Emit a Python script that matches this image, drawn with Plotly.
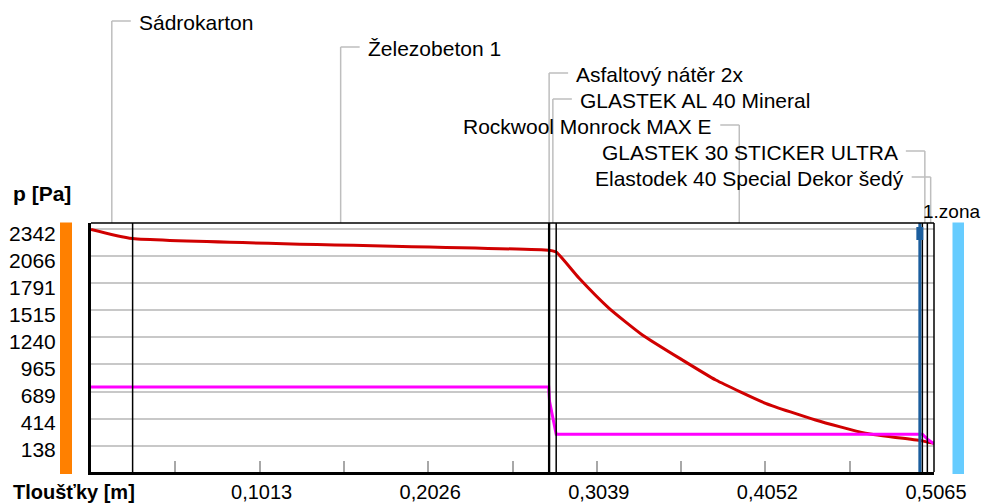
import plotly.graph_objects as go

# ---------------- data ----------------
layer_names = ["Sádrokarton", "Železobeton 1", "Asfaltový nátěr 2x", "GLASTEK AL 40 Mineral",
               "Rockwool Monrock MAX E", "GLASTEK 30 STICKER ULTRA", "Elastodek 40 Special Dekor šedý"]
layer_thickness = [0.025, 0.25, 0.0005, 0.004, 0.22, 0.003, 0.004]
label_side = ["right", "right", "right", "right", "left", "left", "left"]  # text side of leader

# saturated water vapour pressure (red)
sat_x = [0.0, 0.025, 0.275, 0.2795, 0.2933, 0.3113, 0.3313, 0.3553, 0.3754,
         0.4053, 0.4353, 0.4653, 0.4995, 0.5025, 0.5065]
sat_p = [2340, 2247, 2128, 2110, 1843, 1537, 1266, 1011, 807,
         570, 400, 265, 187, 174, 162]

# partial water vapour pressure (magenta)
par_x = [0.0, 0.275, 0.2755, 0.2795, 0.4995, 0.5025, 0.5065]
par_p = [735, 735, 590, 255, 255, 205, 158]

y_ticks = [2342, 2066, 1791, 1515, 1240, 965, 689, 414, 138]
x_ticks = [0.1013, 0.2026, 0.3039, 0.4052, 0.5065]
x_ticktext = ["0,1013", "0,2026", "0,3039", "0,4052", "0,5065"]
x_minor_step = 0.05065
zone_x = 0.498
zone_label = "1.zona"
y_title = "p [Pa]"
x_title = "Tloušťky [m]"

# ---------------- geometry ----------------
W, H = 985, 504
ML, MR, MT, MB = 91, 51, 223, 32
PW, PH = W - ML - MR, H - MT - MB
FONT = "Liberation Sans, Arial, sans-serif"


def ypaper(py):
    return (H - MB - py) / PH


def xpaper(px):
    return (px - ML) / PW


bounds = [0.0]
for t in layer_thickness:
    bounds.append(bounds[-1] + t)
mids = [(bounds[i] + bounds[i + 1]) / 2 for i in range(len(layer_thickness))]

fig = go.Figure()
fig.add_trace(go.Scatter(x=sat_x, y=sat_p, mode="lines",
                         line=dict(color="#D00000", width=3, shape="spline", smoothing=0.5),
                         hoverinfo="skip"))
fig.add_trace(go.Scatter(x=par_x, y=par_p, mode="lines",
                         line=dict(color="#FF00FF", width=3), hoverinfo="skip"))

shapes = []
annotations = []

# layer boundaries
for b in bounds[1:-1]:
    shapes.append(dict(type="line", xref="x", yref="paper", x0=b, x1=b, y0=0, y1=1,
                       line=dict(color="black", width=1.5), layer="above"))

# leaders and labels
for i, name in enumerate(layer_names):
    py = 21 + 26 * i
    yp = ypaper(py)
    m = mids[i]
    shapes.append(dict(type="line", xref="x", yref="paper", x0=m, x1=m, y0=1, y1=yp,
                       line=dict(color="#BEBEBE", width=1.5)))
    d = 1 if label_side[i] == "right" else -1
    shapes.append(dict(type="line", xref="x", xsizemode="pixel", xanchor=m,
                       x0=0, x1=19 * d, yref="paper", y0=yp, y1=yp,
                       line=dict(color="#BEBEBE", width=1.5)))
    annotations.append(dict(x=m, y=yp, xref="x", yref="paper", text=name, showarrow=False,
                            xanchor="left" if d == 1 else "right", yanchor="middle",
                            xshift=25 * d, yshift=-1.5,
                            font=dict(family=FONT, size=21, color="black")))

# condensation zone
shapes.append(dict(type="line", xref="x", yref="paper", x0=zone_x, x1=zone_x, y0=0, y1=1,
                   line=dict(color="#1B5E9E", width=3), layer="above"))
shapes.append(dict(type="rect", xref="x", xsizemode="pixel", xanchor=zone_x, x0=-3.5, x1=3.5,
                   yref="paper", ysizemode="pixel", yanchor=1, y0=-4, y1=-17,
                   fillcolor="#1B5E9E", line=dict(width=0), layer="above"))
annotations.append(dict(x=zone_x, y=ypaper(211), xref="x", yref="paper", text=zone_label,
                        showarrow=False, xanchor="left", yanchor="middle", xshift=1,
                        font=dict(family=FONT, size=19, color="black")))

# plot box top / right
shapes.append(dict(type="line", xref="paper", yref="paper", x0=0, x1=1, y0=1, y1=1,
                   line=dict(color="black", width=1.5), layer="above"))
shapes.append(dict(type="line", xref="paper", yref="paper", x0=1, x1=1, y0=0, y1=1,
                   line=dict(color="black", width=1.5), layer="above"))

# side colour bars
shapes.append(dict(type="rect", xref="paper", yref="paper", x0=xpaper(60), x1=xpaper(72),
                   y0=ypaper(474), y1=ypaper(222.5), fillcolor="#FF8000", line=dict(width=0)))
shapes.append(dict(type="rect", xref="paper", yref="paper", x0=xpaper(952.5), x1=xpaper(964),
                   y0=ypaper(474), y1=ypaper(222.5), fillcolor="#66CCFF", line=dict(width=0)))

# axis titles
annotations.append(dict(x=xpaper(11), y=ypaper(193), xref="paper", yref="paper", text="<b>" + y_title + "</b>",
                        showarrow=False, xanchor="left", yanchor="middle",
                        font=dict(family=FONT, size=21, color="black")))
annotations.append(dict(x=xpaper(11), y=ypaper(492), xref="paper", yref="paper", text="<b>" + x_title + "</b>",
                        showarrow=False, xanchor="left", yanchor="middle",
                        font=dict(family=FONT, size=20, color="black")))

fig.update_layout(
    width=W, height=H, autosize=False,
    margin=dict(l=ML, r=MR, t=MT, b=MB, autoexpand=False),
    paper_bgcolor="white", plot_bgcolor="white",
    showlegend=False,
    shapes=shapes, annotations=annotations,
    xaxis=dict(range=[0, bounds[-1]], tickmode="array", tickvals=x_ticks, ticktext=x_ticktext,
               showgrid=False, zeroline=False, showline=True, linecolor="black", linewidth=3,
               ticks="inside", ticklen=11, tickcolor="#A8A8A8", tickwidth=1.5,
               ticklabelstandoff=0, ticklabelshift=2,
               minor=dict(tick0=0, dtick=x_minor_step, ticks="inside", ticklen=11,
                          tickcolor="#A8A8A8", tickwidth=1.5),
               tickfont=dict(family=FONT, size=20, color="black"), fixedrange=True),
    yaxis=dict(range=[-130, 2406], tickmode="array", tickvals=y_ticks,
               ticktext=[str(v) for v in y_ticks],
               showgrid=True, gridcolor="#C8C8C8", gridwidth=1.5, zeroline=False,
               showline=True, linecolor="black", linewidth=3, ticks="",
               ticklabelstandoff=28, ticklabelshift=4,
               tickfont=dict(family=FONT, size=21, color="black"), fixedrange=True),
)

fig.write_html("out.html")
